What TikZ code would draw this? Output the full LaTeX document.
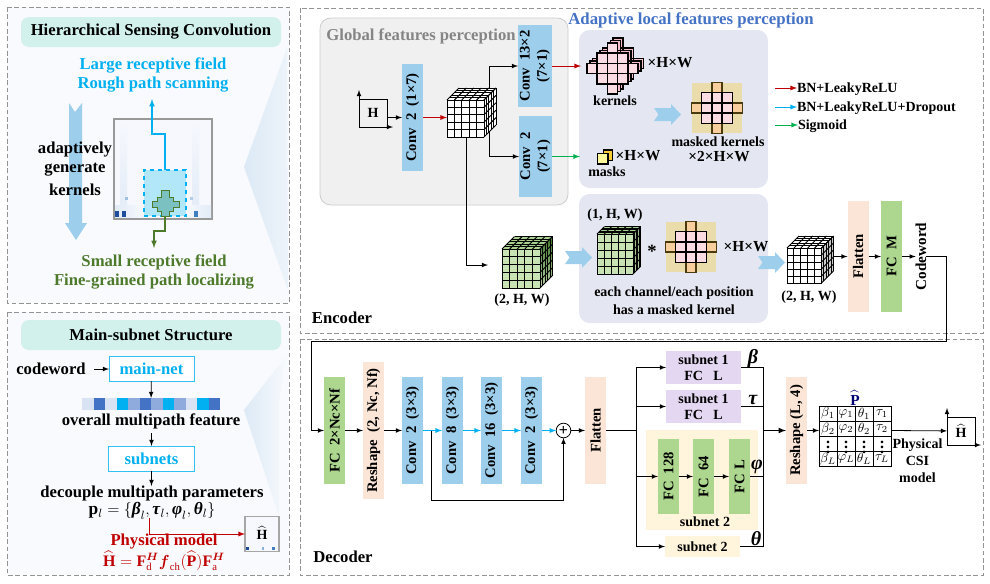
\documentclass[tikz,border=0pt]{standalone}
\usepackage{amsmath, amssymb}
\usepackage{fontspec}
\setmainfont{Liberation Serif}
\usepackage{tikz}
\usetikzlibrary{calc}
\usetikzlibrary{positioning}

\definecolor{panelblue}{HTML}{F8FAFD}
\definecolor{wedgeblue}{HTML}{DCE9F5}
\definecolor{pillgreen}{HTML}{D2F1EC}
\definecolor{skyline}{HTML}{00B0F0}
\definecolor{leafline}{HTML}{4E7A2C}
\definecolor{darkred}{HTML}{C00000}
\definecolor{flowgreen}{HTML}{00B050}
\definecolor{convblue}{HTML}{9DCEEC}
\definecolor{fcgreen}{HTML}{ADD78F}
\definecolor{peach}{HTML}{FBE5D6}
\definecolor{lilac}{HTML}{E4D7F1}
\definecolor{cream}{HTML}{FFF5DC}
\definecolor{graybox}{HTML}{F0F0F0}
\definecolor{slatebox}{HTML}{E4E7F1}
\definecolor{titleblue}{HTML}{4472C4}
\definecolor{pinkA}{HTML}{FADCE2}
\definecolor{pinkB}{HTML}{F5BECB}
\definecolor{tan}{HTML}{EBDCAB}
\definecolor{armorange}{HTML}{F8CF9C}
\definecolor{armbrown}{HTML}{4A3A10}
\definecolor{stripA}{HTML}{DAE3F3}
\definecolor{stripB}{HTML}{4472C4}
\definecolor{stripC}{HTML}{8FAADC}
\definecolor{leafA}{HTML}{C9E4B4}
\definecolor{leafB}{HTML}{A9D18E}
\definecolor{leafC}{HTML}{3F7A2A}
\definecolor{leafD}{HTML}{B8CFA0}
\definecolor{mapbase}{HTML}{F6F8FD}
\definecolor{mapstripe}{HTML}{E2EBF7}
\definecolor{mapdark}{HTML}{1F4E9E}
\definecolor{mapmid}{HTML}{3F7FC0}

% cube of cells: name, x, y (top left of front), w, h, depth, front, top, right top, right bottom
\newcommand{\gridcube}[9]{%
  \def\cubeW{#4}\def\cubeH{#5}\def\cubeD{#6}%
  \cubeside{#1}{#2}{#3}{#7}{#8}{#9}%
}
\newcommand{\cubeside}[7]{%
  \fill[#4] (#2,#3) rectangle ++(\cubeW,\cubeH);
  \fill[#5] (#2,#3) -- ++(\cubeD,-\cubeD) -- ++(\cubeW,0) -- ++(-\cubeD,\cubeD) -- cycle;
  \shade[top color=#6,bottom color=#7] (#2+\cubeW,#3) -- ++(\cubeD,-\cubeD) -- ++(0,\cubeH) -- ++(-\cubeD,\cubeD) -- cycle;
  \foreach \t in {0,0.2,0.4,0.6,0.8,1} {
    \draw[cubeline] (#2+\t*\cubeW,#3) -- ++(0,\cubeH);
    \draw[cubeline] (#2,#3+\t*\cubeH) -- ++(\cubeW,0);
    \draw[cubeline] (#2+\t*\cubeW,#3) -- ++(\cubeD,-\cubeD);
    \draw[cubeline] (#2+\t*\cubeD,#3-\t*\cubeD) -- ++(\cubeW,0);
    \draw[cubeline] (#2+\cubeW+\t*\cubeD,#3-\t*\cubeD) -- ++(0,\cubeH);
    \draw[cubeline] (#2+\cubeW,#3+\t*\cubeH) -- ++(\cubeD,-\cubeD);
  }
  \node[spot,minimum width={(\cubeW+\cubeD)*0.75pt},minimum height={(\cubeH+\cubeD)*0.75pt}] (#1)
    at (#2+\cubeW/2+\cubeD/2,#3+\cubeH/2-\cubeD/2) {};
}
% diamond of cells: cx, cy, fill
\newcommand{\crosscells}[3]{%
  \foreach \i/\j in {0/-2,-1/-1,0/-1,1/-1,-2/0,-1/0,0/0,1/0,2/0,-1/1,0/1,1/1,0/2}
    \draw[kernelline,fill=#3] (#1+\i*10.2-5.1,#2+\j*10.2-5.1) rectangle ++(10.2,10.2);
}
% kernel on its mask: name, cx, cy
\newcommand{\maskedkernel}[3]{%
  \node[spot,fill=tan,minimum size=38pt] (#1) at (#2,#3) {};
  \foreach \i/\j in {0/-2,-2/0,2/0,0/2}
    \draw[kernelline,draw=armbrown,fill=armorange] (#2+\i*10.2-5.1,#3+\j*10.2-5.1) rectangle ++(10.2,10.2);
  \foreach \i/\j in {-1/-1,0/-1,1/-1,-1/0,0/0,1/0,-1/1,0/1,1/1}
    \draw[kernelline,fill=pinkA] (#2+\i*10.2-5.1,#3+\j*10.2-5.1) rectangle ++(10.2,10.2);
}
\newcommand{\chevronfill}[2]{%
  \fill[convblue] (#1,#2+4) -- ++(17,0) -- ++(0,-4) -- ++(10,10.5) -- ++(-10,10.5) -- ++(0,-4) -- ++(-17,0) -- ++(4.5,-6.5) -- cycle;
}
\newcommand{\bgreek}[1]{\textbf{\textit{#1}}}
\newcommand{\paramset}{$\mathbf{p}_l=\{\bgreek{β}_l,\bgreek{τ}_l,\bgreek{φ}_l,\bgreek{θ}_l\}$}

\begin{document}
\begin{tikzpicture}[
  x = 0.75pt, y = -0.75pt,
  > = latex,
  every node/.style = {font=\bfseries\fontsize{10.5}{12}\selectfont},
  bigtext/.style = {font=\bfseries\fontsize{12.5}{14}\selectfont},
  midtext/.style = {font=\bfseries\fontsize{11.5}{13}\selectfont},
  greektext/.style = {font=\bfseries\fontsize{15}{16}\selectfont},
  panel/.style = {draw=gray!85,dash pattern=on 3.5pt off 2pt,line width=0.6pt},
  pill/.style = {fill=pillgreen,rounded corners=6pt},
  spot/.style = {inner sep=0pt,outer sep=0pt},
  cubeline/.style = {line width=0.7pt,black},
  kernelline/.style = {line width=1.1pt,draw=black},
  line/.style = {line width=0.6pt,black},
  fine/.style = {line width=0.6pt,->,black},
  redflow/.style = {line width=0.7pt,->,darkred},
  blueflow/.style = {line width=0.7pt,->,skyline},
  greenflow/.style = {line width=0.7pt,->,flowgreen},
  vblock/.style args = {#1 by #2}{spot,rotate=90,align=center,font=\bfseries\fontsize{11}{13}\selectfont,minimum height=#1*0.75pt,minimum width=#2*0.75pt},
  conv/.style = {vblock=#1,fill=convblue},
  fc/.style = {vblock=#1,fill=fcgreen},
  reshape/.style = {vblock=#1,fill=peach},
  hbox/.style args = {#1 by #2}{spot,align=center,minimum width=#1*0.75pt,minimum height=#2*0.75pt},
  plainimg/.style = {spot,draw,line width=0.7pt,minimum size=21pt},
  cellsym/.style = {font=\fontsize{10}{11}\selectfont}
  ]
  \useasboundingbox (0,0) rectangle (990,583);

  % panels
  \draw[panel,fill=panelblue] (7,7) rectangle (289,303);
  \draw[panel,fill=panelblue] (7,312) rectangle (289,575);
  \draw[panel] (300,8) rectangle (983,333);
  \draw[panel] (300,339) rectangle (983,575);
  \shade[left color=wedgeblue,right color=panelblue!60!wedgeblue] (287,48) -- (244,167) -- (288,290) -- cycle;
  \shade[left color=wedgeblue,right color=panelblue] (287,355) -- (244,410) -- (279,516) -- (279,400) -- cycle;

  % Hierarchical sensing convolution
  \node[pill,hbox=260 by 30,bigtext] (titleA) at (151,32) {Hierarchical Sensing Convolution};
  \node[skyline,bigtext] (large) at (153,65) {Large receptive field};
  \node[skyline,bigtext] (rough) at (153,85) {Rough path scanning};
  \fill[convblue] (69,103) -- (75,112) -- (82,103) -- (82,223) -- (87,223) -- (76,240) -- (65,223) -- (69,223) -- cycle;
  \node[bigtext] (adaptA) at (75,150) {adaptively};
  \node[bigtext] (adaptB) at (75,170) {generate};
  \node[bigtext] (adaptC) at (75,190) {kernels};

  \node[spot,fill=mapbase,draw=gray!80,line width=1.5pt,minimum width=73.5pt,minimum height=75pt] (heatmap) at (163,168.5) {};
  \shade[top color=mapbase,bottom color=mapstripe] (120,120) rectangle (127,217);
  \shade[top color=mapbase,bottom color=mapstripe] (192,120) rectangle (199,217);
  \shade[left color=mapstripe,right color=mapbase] (115,205) rectangle (144,217);
  \shade[left color=mapbase,right color=mapstripe] (186,205) rectangle (211,217);
  \fill[mapmid!50] (125,197) rectangle (128,200);
  \fill[mapmid!40] (190,197) rectangle (193,200);
  \fill[mapdark] (115,211) rectangle (119,217);
  \fill[mapdark] (122,211) rectangle (126,217);
  \fill[mapmid] (194,211) rectangle (198,217);
  \node[spot,draw=skyline,dashed,line width=0.8pt,fill=skyline!30,minimum width=31.5pt,minimum height=34.5pt] (largefield) at (165,193) {};
  \fill[fill=leafline!45!skyline!60!white,draw=leafline,line width=0.6pt]
    (161,190) -- (169,190) -- (169,197) -- (173,197) -- (173,201) -- (179,201) -- (179,207) -- (173,207) -- (173,211) -- (169,211) -- (169,216)
    -- (161,216) -- (161,211) -- (157,211) -- (157,207) -- (152,207) -- (152,201) -- (157,201) -- (157,197) -- (161,197) -- cycle;
  \coordinate (blueup) at (152,99);
  \coordinate (greendown) at (154,248);
  \coordinate (smalltop) at (165,216);
  \draw[->,skyline,line width=0.9pt] (largefield.north) |- (152,134) -- (blueup);
  \draw[->,leafline,line width=0.9pt] (smalltop) |- (154,231) -- (greendown);
  \node[leafline,bigtext] (small) at (154,262) {Small receptive field};
  \node[leafline,bigtext] (finegrain) at (154,282) {Fine-grained path localizing};

  % main-subnet structure
  \node[pill,hbox=260 by 30,bigtext] (titleB) at (151,335) {Main-subnet Structure};
  \node[bigtext] (codein) at (51,369) {codeword};
  \node[hbox=85 by 25,draw=skyline!80,line width=0.7pt,fill=white,text=skyline,bigtext] (mainnet) at (151.5,368.5) {main-net};
  \coordinate (codetail) at (94,369);
  \draw[fine] (codetail) -- (mainnet.west |- codetail);
  \foreach \c [count=\k from 0] in {stripA,stripB,stripA,skyline,stripC,stripB,stripC,skyline,stripC,stripA,skyline,stripB}
    \fill[\c] (82+11.5*\k,398) rectangle ++(11.5,12);
  \node[spot,minimum width=103.5pt,minimum height=9pt] (strip) at (151,404) {};
  \draw[fine] (mainnet) -- (strip);
  \node[bigtext] (overall) at (151,421) {overall multipath feature};
  \node[hbox=86 by 25,draw=skyline!80,line width=0.7pt,fill=white,text=skyline,bigtext] (subnets) at (151.5,458.5) {subnets};
  \coordinate (overalltail) at (151.5,433);
  \draw[fine] (overalltail) -- (subnets);
  \node[bigtext] (decouple) at (152,493) {decouple multipath parameters};
  \coordinate (decoupletop) at (151.5,486);
  \draw[fine] (subnets) -- (decoupletop);
  \node[font=\bfseries\fontsize{13}{14}\selectfont] (params) at (152,511) {\paramset};
  \node[spot,fill=mapbase,draw=gray!70,line width=1pt,minimum width=25.5pt,minimum height=26pt] (himg) at (262,534) {};
  \fill[mapdark] (246,547) rectangle (249,550);
  \fill[mapmid!60] (262,547) rectangle (264,550);
  \fill[mapmid] (272,547) rectangle (275,550);
  \node (hlabelA) at (262,533) {$\widehat{\mathbf{H}}$};
  \coordinate (paramtail) at (149,518);
  \draw[->,darkred,line width=0.7pt] (paramtail) |- (himg);
  \node[darkred,bigtext] (physmodel) at (164,542) {Physical model};
  \node[darkred,font=\bfseries\fontsize{12}{14}\selectfont] (physeq) at (164,561) {$\widehat{\mathbf{H}}=\mathbf{F}_{\mathrm{d}}^{\boldsymbol{H}}\boldsymbol{f}_{\mathrm{ch}}(\widehat{\mathbf{P}})\mathbf{F}_{\mathrm{a}}^{\boldsymbol{H}}$};

  % encoder
  \draw[draw=gray!40,fill=graybox,rounded corners=8pt,line width=0.6pt] (320,18) rectangle (568,205);
  \fill[slatebox,rounded corners=8pt] (579,30) rectangle (768,188);
  \fill[slatebox,rounded corners=8pt] (579,194) rectangle (768,323);
  \node[black!48,bigtext] (globaltitle) at (421,36) {Global features perception};
  \node[titleblue,font=\bfseries\fontsize{12.6}{14}\selectfont] (localtitle) at (691,20) {Adaptive local features perception};

  \node[plainimg] (hbase) at (373,113) {H};
  \coordinate (hup) at (359,90);
  \coordinate (hright) at (393,127);
  \draw[fine] (hbase.south west) -- (hup);
  \draw[fine] (hbase.south west) -- (hright);
  \node[conv=21 by 107] (convA) at (412.5,117.5) {Conv~~2~~(1×7)};
  \draw[fine] (hbase.east |- convA) -- (convA);
  \node[conv=34 by 82] (convB) at (535,66) {Conv~~13×2\\(7×1)};
  \node[conv=33 by 81] (convC) at (535.5,156.5) {Conv~~2\\(7×1)};
  \coordinate (cubetapA) at (489,110);
  \coordinate (cubetapB) at (466,130);
  \coordinate (cubeBin) at (488,265);
  \draw[fine] (cubetapA) |- (convB);
  \draw[fine] (cubetapA) |- (convC);
  \draw[fine] (cubetapB) |- (cubeBin);
  \gridcube{cubeA}{447}{100}{37}{37}{12}{white}{white}{white}{white}
  \draw[redflow] (convA) -- (cubeA.west |- convA);

  % kernels
  \coordinate (kernelin) at (581,66);
  \coordinate (maskin) at (580,156.5);
  \draw[redflow] (convB) -- (kernelin);
  \draw[greenflow] (convC) -- (maskin);
  \crosscells{618}{63.5}{pinkB}
  \crosscells{615.5}{66}{pinkB}
  \crosscells{612.5}{68.5}{pinkA}
  \node[midtext] (kernelsize) at (670,63) {×H×W};
  \node (kernelname) at (615,101) {kernels};
  \chevronfill{654}{104}
  \maskedkernel{maskedA}{717}{108}
  \node (maskedname) at (718,142) {masked kernels};
  \node[midtext] (maskedsize) at (719,157) {×2×H×W};
  \draw[line width=0.8pt,fill=yellow!55!orange!80] (603.5,150) rectangle ++(9,10.5);
  \draw[line width=0.8pt,fill=cream!70!yellow] (597.5,153.5) rectangle ++(10.5,10.5);
  \node[midtext] (masksize) at (638,156) {×H×W};
  \node (maskname) at (607,172) {masks};

  % legend
  \node[spot,anchor=west] (legA) at (797,89) {BN+LeakyReLU};
  \node[spot,anchor=west] (legB) at (797,108) {BN+LeakyReLU+Dropout};
  \node[spot,anchor=west] (legC) at (798,126) {Sigmoid};
  \coordinate (legtailA) at (775,88);
  \coordinate (legtailB) at (775,107);
  \coordinate (legtailC) at (775,125);
  \draw[redflow] (legtailA) -- (legA.west |- legtailA);
  \draw[blueflow] (legtailB) -- (legB.west |- legtailB);
  \draw[greenflow] (legtailC) -- (legC.west |- legtailC);

  % masked convolution
  \gridcube{cubeB}{502}{249}{38}{39}{12.5}{leafA}{leafB}{leafC}{leafD}
  \node (sizeB) at (522,300) {(2, H, W)};
  \chevronfill{565}{247}
  \node (sizeC) at (615,215) {(1, H, W)};
  \gridcube{cubeC}{597}{234}{36}{40}{7.5}{leafA}{leafB}{leafD!70!leafC}{leafD}
  \node[font=\bfseries\fontsize{14}{14}\selectfont] (starop) at (652,251) {*};
  \maskedkernel{maskedB}{691}{247}
  \node[midtext] (sizeD) at (746,247) {×H×W};
  \node (eachA) at (674,293) {each channel/each position};
  \node (eachB) at (674,310) {has a masked kernel};
  \chevronfill{758}{252}
  \gridcube{cubeD}{787}{248}{34.5}{35}{12}{white}{white}{gray!45}{gray!35}
  \node (sizeE) at (809,297) {(2, H, W)};
  \node[reshape=21 by 111] (flatE) at (858,256.5) {Flatten};
  \node[fc=21 by 111] (fcE) at (891.5,256.5) {FC~~M};
  \node[spot,rotate=90,font=\bfseries\fontsize{11.4}{13}\selectfont] (code) at (921,256.5) {Codeword};
  \draw[fine] (cubeD.east |- flatE) -- (flatE);
  \draw[fine] (flatE) -- (fcE);
  \draw[fine] (fcE) -- (code);
  \node[bigtext] (enclabel) at (342,318) {Encoder};

  % decoder
  \node[fc=21 by 107] (fcD) at (334.5,430.5) {FC~~2×Nc×Nf};
  \node[reshape=21 by 137] (reshA) at (373.5,430.5) {Reshape~~(2, Nc, Nf)};
  \node[conv=21 by 107] (convD) at (412.5,430.5) {Conv~~2~~(3×3)};
  \node[conv=21 by 107] (convE) at (452.5,430.5) {Conv~~8~~(3×3)};
  \node[conv=21 by 107] (convF) at (491.5,430.5) {Conv~~16~~(3×3)};
  \node[conv=21 by 107] (convG) at (531.5,430.5) {Conv~~2~~(3×3)};
  \node[spot,circle,draw,fill=white,line width=0.6pt,minimum size=11pt,font=\bfseries\fontsize{12}{12}\selectfont] (plus) at (563.5,430.5) {+};
  \node[reshape=21 by 107] (flatD) at (595.5,430.5) {Flatten};
  \coordinate (routeA) at (946,341);
  \coordinate (routeB) at (311,341);
  \coordinate (skiptail) at (431,430.5);
  \coordinate (skipcorner) at (431,500);
  \draw[fine] (code) -| (routeA) -- (routeB) |- (fcD);
  \draw[fine] (fcD) -- (reshA);
  \draw[fine] (reshA) -- (convD);
  \draw[blueflow] (convD) -- (convE);
  \draw[blueflow] (convE) -- (convF);
  \draw[blueflow] (convF) -- (convG);
  \draw[blueflow] (convG) -- (plus);
  \draw[fine] (plus) -- (flatD);
  \draw[fine] (skiptail) -- (skipcorner) -| (plus);

  \fill[cream] (646,430) rectangle (758,530);
  \node[hbox=75 by 33,fill=lilac] (subA) at (703.5,367.5) {subnet 1\\FC~~~L};
  \node[hbox=75 by 33,fill=lilac] (subB) at (703.5,406.5) {subnet 1\\FC~~~L};
  \node[fc=21 by 75] (fcF) at (668.5,476.5) {FC~~128};
  \node[fc=21 by 75] (fcG) at (703.5,476.5) {FC~~64};
  \node[fc=21 by 75] (fcH) at (739.5,476.5) {FC~L};
  \node (subtwo) at (705,522) {subnet 2};
  \node[hbox=75 by 21,fill=cream] (subC) at (702.5,546.5) {subnet 2};
  \coordinate (splitD) at (636,430.5);
  \coordinate (mergeD) at (763,430.5);
  \draw[line,line width=0.9pt] (flatD) -- (splitD);
  \draw[fine] (splitD) |- (subA);
  \draw[fine] (splitD) |- (subB);
  \draw[fine] (splitD) |- (fcF);
  \draw[fine] (splitD) |- (subC);
  \draw[fine] (fcF) -- (fcG);
  \draw[fine] (fcG) -- (fcH);
  \draw[line] (subA) -| (mergeD);
  \draw[line] (subB) -| (mergeD);
  \draw[line] (fcH) -| (mergeD);
  \draw[line] (subC) -| (mergeD);
  \node[greektext] (betaA) at (753,359) {\bgreek{β}};
  \node[greektext] (tauA) at (753,400) {\bgreek{τ}};
  \node[greektext] (phiA) at (757,467) {\bgreek{φ}};
  \node[greektext] (thetaA) at (756,539) {\bgreek{θ}};
  \node[reshape=21 by 107] (reshB) at (796.5,430.5) {Reshape (L, 4)};
  \draw[fine,line width=0.9pt] (mergeD) -- (reshB);

  % parameter matrix
  \node[spot,minimum width=54pt,minimum height=45.5pt] (matP) at (855,436) {};
  \draw[fine] (reshB) -- (matP.west |- reshB);
  \draw[line width=0.7pt] (819,406) rectangle (891,466.5);
  \foreach \mx in {837,855,873} \draw[line width=0.7pt] (\mx,406) -- (\mx,466.5);
  \foreach \my in {421,436.5,451.5} \draw[line width=0.7pt] (819,\my) -- (891,\my);
  \foreach \sym [count=\k from 0] in {\beta,\varphi,\theta,\tau} {
    \node[cellsym] (rowa\k) at (828+18*\k,413.5) {$\sym_1$};
    \node[cellsym] (rowb\k) at (828+18*\k,429) {$\sym_2$};
    \node[font=\bfseries\fontsize{12}{12}\selectfont] (rowc\k) at (828+18*\k,443.5) {$\vdots$};
    \node[cellsym] (rowd\k) at (828+18*\k,459) {$\sym_L$};
  }
  \node[text=blue!45!black,midtext] (phat) at (855,398) {$\widehat{\mathbf{P}}$};
  \node[plainimg] (hout) at (961,431) {$\widehat{\mathbf{H}}$};
  \coordinate (houtup) at (947,408);
  \coordinate (houtright) at (981,445);
  \draw[fine] (hout.south west) -- (houtup);
  \draw[fine] (hout.south west) -- (houtright);
  \draw[fine] (matP.east |- reshB) -- (hout);
  \node (physA) at (917.5,445) {Physical};
  \node (physB) at (917.5,461) {CSI};
  \node (physC) at (917.5,478) {model};
  \node[bigtext] (declabel) at (343,557) {Decoder};
\end{tikzpicture}
\end{document}
